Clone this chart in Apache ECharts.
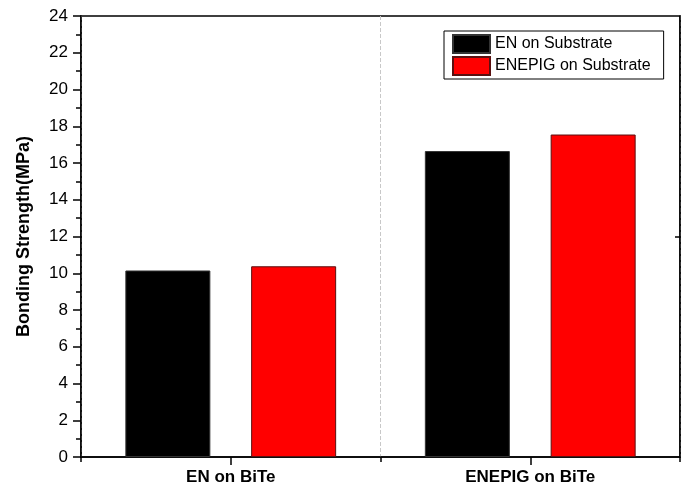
<!DOCTYPE html>
<html>
<head>
<meta charset="utf-8">
<script src="https://cdn.jsdelivr.net/npm/echarts@6/dist/echarts.min.js"></script>
<style>html,body{margin:0;padding:0;background:#fff}#c{width:687px;height:488px}</style>
</head>
<body>
<div id="c"></div>
<script>
const categories = ['EN on BiTe', 'ENEPIG on BiTe'];
const seriesNames = ['EN on Substrate', 'ENEPIG on Substrate'];
const enOnSubstrate = [10.15, 16.65];
const enepigOnSubstrate = [10.38, 17.55];
const yTicks = [0, 2, 4, 6, 8, 10, 12, 14, 16, 18, 20, 22, 24];

const chart = echarts.init(document.getElementById('c'), null, {renderer: 'canvas'});
const font = 'Arial, "Liberation Sans", sans-serif';
chart.setOption({
  animation: false,
  backgroundColor: '#fff',
  grid: {left: 81, right: 7, top: 16, bottom: 31, show: true, borderColor: '#000', borderWidth: 1.5, backgroundColor: 'transparent'},
  legend: {
    orient: 'vertical', left: 444, top: 31,
    padding: [3, 13, 3, 8], itemGap: 2,
    itemWidth: 37, itemHeight: 18,
    borderColor: '#000', borderWidth: 1,
    textStyle: {fontFamily: font, fontSize: 16, color: '#000'},
    data: seriesNames.map(n => ({name: n, icon: 'rect'}))
  },
  xAxis: [{
    type: 'category', data: categories,
    axisLine: {lineStyle: {color: '#000', width: 1.5}},
    axisTick: {show: true, alignWithLabel: false, length: 5, lineStyle: {color: '#000', width: 1.5}},
    axisLabel: {fontFamily: font, fontSize: 17, fontWeight: 'bold', color: '#000', margin: 12},
    splitLine: {show: true, lineStyle: {color: '#c8c8c8', type: 'dashed', width: 1}}
  }, {
    type: 'category', data: categories, position: 'bottom',
    axisLine: {show: false},
    axisTick: {show: true, alignWithLabel: true, length: 8, lineStyle: {color: '#000', width: 1.5}},
    axisLabel: {show: false},
    splitLine: {show: false}
  }],
  yAxis: [{
    type: 'value', min: yTicks[0], max: yTicks[yTicks.length - 1], interval: 2,
    name: 'Bonding Strength(MPa)', nameLocation: 'middle', nameGap: 48,
    nameTextStyle: {fontFamily: font, fontSize: 18, fontWeight: 'bold', color: '#000'},
    axisLine: {show: true, lineStyle: {color: '#000', width: 1.5}},
    axisTick: {show: true, length: 8, lineStyle: {color: '#000', width: 1.5}},
    minorTick: {show: true, splitNumber: 2, length: 5, lineStyle: {color: '#000', width: 1.5}},
    axisLabel: {fontFamily: font, fontSize: 17, color: '#000', margin: 13},
    splitLine: {show: false}
  }, {
    type: 'value', min: yTicks[0], max: yTicks[yTicks.length - 1], interval: 2, position: 'right',
    axisLine: {show: true, lineStyle: {color: '#000', width: 1.5}},
    axisTick: {show: true, inside: true, length: 5, customValues: [12], lineStyle: {color: '#000', width: 1.5}},
    axisLabel: {show: false},
    splitLine: {show: false}
  }],
  series: [{
    name: seriesNames[0], type: 'bar', data: enOnSubstrate,
    barWidth: 85, barGap: '48%',
    itemStyle: {color: '#000', borderColor: '#333', borderWidth: 1}
  }, {
    name: seriesNames[1], type: 'bar', data: enepigOnSubstrate,
    barWidth: 85, barGap: '48%',
    itemStyle: {color: '#ff0000', borderColor: '#5a1010', borderWidth: 1}
  }]
});
</script>
</body>
</html>
